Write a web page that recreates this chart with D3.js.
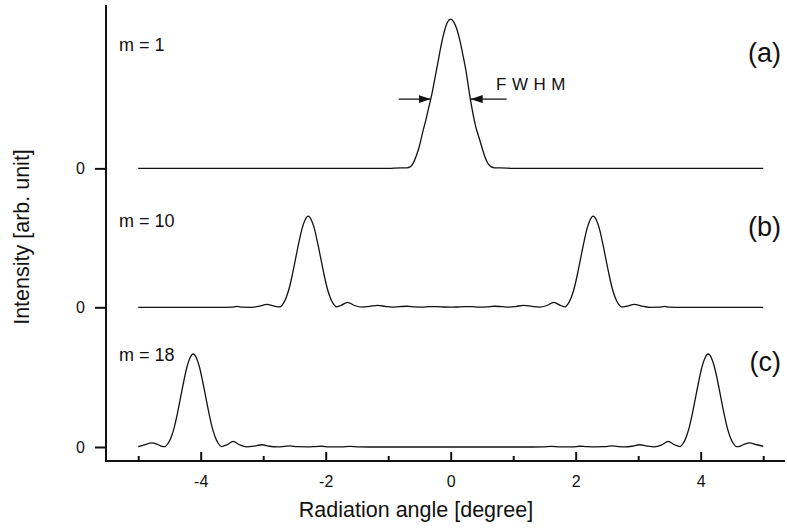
<!DOCTYPE html>
<html>
<head>
<meta charset="utf-8">
<script src="https://cdn.jsdelivr.net/npm/d3@7"></script>
<style>
  html, body { margin: 0; padding: 0; background: #fff; }
  svg { display: block; font-family: "Liberation Sans", Arial, sans-serif; }
</style>
</head>
<body>
<svg id="chart" width="787" height="529"></svg>
<script>
// ---- data -------------------------------------------------------------
const panelLabels = ["(a)", "(b)", "(c)"];
const modeLabels = ["m = 1", "m = 10", "m = 18"];
const xTickLabels = ["-4", "-2", "0", "2", "4"];
const xMinorTicks = [-5, -3, -1, 1, 3, 5];

// (a) m = 1 : single central lobe
const angleA = [-5, -1.0, -0.8, -0.7, -0.65, -0.6, -0.55, -0.5, -0.45, -0.4, -0.35, -0.3, -0.25, -0.2, -0.15, -0.1, -0.05, 0,
                0.05, 0.1, 0.15, 0.2, 0.25, 0.3, 0.35, 0.4, 0.45, 0.5, 0.55, 0.6, 0.65, 0.7, 0.8, 1.0, 5];
const intensityA = [0, 0, 0.004, 0.004, 0.01, 0.035, 0.085, 0.15, 0.24, 0.32, 0.41, 0.5, 0.61, 0.72, 0.83, 0.92, 0.98, 1.0,
                    0.98, 0.93, 0.85, 0.75, 0.64, 0.5, 0.38, 0.28, 0.21, 0.14, 0.075, 0.03, 0.01, 0.004, 0.004, 0, 0];

// (b) m = 10 : lobes near ±2.28°
const angleB = [-5, -3.6, -3.5, -3.42, -3.34, -3.18, -3.06, -2.94, -2.82, -2.73,
                -2.68, -2.63, -2.58, -2.53, -2.48, -2.43, -2.38, -2.33, -2.28, -2.23, -2.18, -2.13, -2.08, -2.03, -1.98, -1.93, -1.88, -1.83,
                -1.76, -1.65, -1.54, -1.42, -1.3, -1.17, -1.04, -0.94, -0.82, -0.7, -0.58, -0.46, -0.34, -0.22, -0.1, 0,
                0.1, 0.22, 0.34, 0.46, 0.58, 0.7, 0.82, 0.94, 1.04, 1.17, 1.3, 1.42, 1.54, 1.65, 1.76,
                1.83, 1.88, 1.93, 1.98, 2.03, 2.08, 2.13, 2.18, 2.23, 2.28, 2.33, 2.38, 2.43, 2.48, 2.53, 2.58, 2.63, 2.68, 2.73,
                2.82, 2.94, 3.06, 3.18, 3.34, 3.42, 3.5, 3.6, 5];
const intensityB = [0, 0, 0.001, 0.006, 0.001, 0, 0.008, 0.02, 0.008, 0.003,
                    0.024, 0.067, 0.134, 0.226, 0.33, 0.433, 0.525, 0.585, 0.61, 0.585, 0.525, 0.433, 0.33, 0.226, 0.134, 0.067, 0.024, 0.003,
                    0.012, 0.033, 0.012, 0.001, 0.006, 0.013, 0.005, 0.001, 0.004, 0.007, 0.003, 0.001, 0.004, 0.005, 0.002, 0.001,
                    0.002, 0.005, 0.004, 0.001, 0.003, 0.007, 0.004, 0.001, 0.005, 0.013, 0.006, 0.001, 0.012, 0.033, 0.012,
                    0.003, 0.024, 0.067, 0.134, 0.226, 0.33, 0.433, 0.525, 0.585, 0.61, 0.585, 0.525, 0.433, 0.33, 0.226, 0.134, 0.067, 0.024, 0.003,
                    0.008, 0.02, 0.008, 0, 0.001, 0.006, 0.001, 0, 0];

// (c) m = 18 : lobes near ±4.12°
const angleC = [-5, -4.9, -4.78, -4.68, -4.6,
                -4.57, -4.52, -4.47, -4.42, -4.37, -4.32, -4.27, -4.22, -4.17, -4.12, -4.07, -4.02, -3.97, -3.92, -3.87, -3.82, -3.77, -3.72, -3.67,
                -3.58, -3.48, -3.38, -3.26, -3.14, -3.02, -2.9, -2.78, -2.66, -2.57, -2.46, -2.3, -2.16, -2.06, -1.95, -1.75, -1.61, -1.48, -1.3,
                1.3, 1.48, 1.61, 1.75, 1.95, 2.06, 2.16, 2.3, 2.46, 2.57, 2.66, 2.78, 2.9, 3.02, 3.14, 3.26, 3.38, 3.48, 3.58,
                3.67, 3.72, 3.77, 3.82, 3.87, 3.92, 3.97, 4.02, 4.07, 4.12, 4.17, 4.22, 4.27, 4.32, 4.37, 4.42, 4.47, 4.52, 4.57,
                4.6, 4.68, 4.78, 4.9, 5];
const intensityC = [0.003, 0.015, 0.027, 0.015, 0.002,
                    0.003, 0.025, 0.069, 0.137, 0.23, 0.336, 0.442, 0.536, 0.598, 0.623, 0.598, 0.536, 0.442, 0.336, 0.23, 0.137, 0.069, 0.025, 0.003,
                    0.015, 0.037, 0.015, 0.001, 0.006, 0.015, 0.005, 0.001, 0.004, 0.007, 0.002, 0.001, 0.003, 0.005, 0.001, 0.001, 0.004, 0.001, 0,
                    0, 0.001, 0.004, 0.001, 0.001, 0.005, 0.003, 0.001, 0.002, 0.007, 0.004, 0.001, 0.005, 0.015, 0.006, 0.001, 0.015, 0.037, 0.015,
                    0.003, 0.025, 0.069, 0.137, 0.23, 0.336, 0.442, 0.536, 0.598, 0.623, 0.598, 0.536, 0.442, 0.336, 0.23, 0.137, 0.069, 0.025, 0.003,
                    0.002, 0.015, 0.027, 0.015, 0.005];

// ---- layout -------------------------------------------------------------
const svg = d3.select("#chart");
const axisX0 = 106, axisX1 = 785;   // horizontal extent of the x-axis line
const axisYTop = 5, axisYBottom = 461;
const unitPx = 149.3;                 // pixels per intensity unit
// vertical offset (in intensity units above the x axis) of each trace's zero line
const offsets = [1.960, 1.0295, 0.0938];

const x = d3.scaleLinear().domain([-5, 5]).range([138.2, 763.2]);
const y = d3.scaleLinear().domain([0, (axisYBottom - axisYTop) / unitPx]).range([axisYBottom, axisYTop]);

const ink = "#111";

// ---- traces ---------------------------------------------------------------
const traces = [
  { angle: angleA, intensity: intensityA },
  { angle: angleB, intensity: intensityB },
  { angle: angleC, intensity: intensityC }
];

traces.forEach((t, i) => {
  const pts = t.angle.map((a, k) => [a, t.intensity[k]]);
  const line = d3.line()
    .x(d => x(d[0]))
    .y(d => y(d[1] + offsets[i]))
    .curve(d3.curveMonotoneX);
  svg.append("path")
    .attr("d", line(pts))
    .attr("fill", "none")
    .attr("stroke", ink)
    .attr("stroke-width", 1.3)
    .attr("stroke-linejoin", "round");
});

// ---- axes ---------------------------------------------------------------
const xMajor = d3.axisBottom(x).tickValues(xTickLabels.map(Number)).tickSizeInner(-9).tickSizeOuter(0)
  .tickPadding(15).tickFormat((d, i) => xTickLabels[i]);
const gx = svg.append("g").attr("transform", `translate(0,${axisYBottom})`).call(xMajor);
const xMinor = d3.axisBottom(x).tickValues(xMinorTicks).tickSizeInner(-5).tickSizeOuter(0).tickFormat("");
const gxm = svg.append("g").attr("transform", `translate(0,${axisYBottom})`).call(xMinor);

const yAxis = d3.axisLeft(y).tickValues(offsets).tickSizeInner(11).tickSizeOuter(0)
  .tickPadding(10).tickFormat(() => "0");
const gy = svg.append("g").attr("transform", `translate(${axisX0},0)`).call(yAxis);

[gx, gxm, gy].forEach(g => {
  g.select(".domain").remove();
  g.selectAll(".tick line").attr("stroke", ink).attr("stroke-width", 2);
  g.selectAll(".tick text").attr("fill", ink).style("font-size", "16px");
});

svg.append("line").attr("x1", axisX0).attr("x2", axisX1).attr("y1", axisYBottom).attr("y2", axisYBottom)
  .attr("stroke", ink).attr("stroke-width", 2);
svg.append("line").attr("x1", axisX0).attr("x2", axisX0).attr("y1", axisYTop).attr("y2", axisYBottom + 1)
  .attr("stroke", ink).attr("stroke-width", 2);

// axis titles
svg.append("text").attr("x", 416).attr("y", 517)
  .attr("text-anchor", "middle").attr("fill", ink).style("font-size", "21.5px")
  .text("Radiation angle [degree]");
svg.append("text")
  .attr("transform", `translate(29,${237}) rotate(-90)`)
  .attr("text-anchor", "middle").attr("fill", ink).style("font-size", "21.5px")
  .text("Intensity [arb. unit]");

// ---- annotations ----------------------------------------------------------
const modeY = [45, 221, 355];
modeLabels.forEach((t, i) => {
  svg.append("text").attr("x", 119).attr("y", modeY[i]).attr("dy", "0.35em")
    .attr("fill", ink).style("font-size", "18px").text(t);
});
const panelY = [53, 227, 362];
panelLabels.forEach((t, i) => {
  svg.append("text").attr("x", 781).attr("y", panelY[i]).attr("dy", "0.35em")
    .attr("text-anchor", "end").attr("fill", ink).style("font-size", "27px").text(t);
});

// FWHM marker on trace (a)
const halfLevel = 0.464;
const yHalf = y(halfLevel + offsets[0]);
const xl = x(-0.32), xr = x(0.32);
svg.append("defs").append("marker")
  .attr("id", "arrowhead").attr("viewBox", "0 0 12 8").attr("refX", 12).attr("refY", 4)
  .attr("markerWidth", 12).attr("markerHeight", 8).attr("markerUnits", "userSpaceOnUse")
  .attr("orient", "auto")
  .append("path").attr("d", "M0,0 L12,4 L0,8 Z").attr("fill", ink);
svg.append("line").attr("x1", xl - 32).attr("x2", xl).attr("y1", yHalf).attr("y2", yHalf)
  .attr("stroke", ink).attr("stroke-width", 1.3).attr("marker-end", "url(#arrowhead)");
svg.append("line").attr("x1", xr + 36).attr("x2", xr).attr("y1", yHalf).attr("y2", yHalf)
  .attr("stroke", ink).attr("stroke-width", 1.3).attr("marker-end", "url(#arrowhead)");
svg.append("text").attr("x", 496).attr("y", 84).attr("dy", "0.35em")
  .attr("fill", ink).style("font-size", "17px").style("letter-spacing", "5.5px").text("FWHM");
</script>
</body>
</html>
